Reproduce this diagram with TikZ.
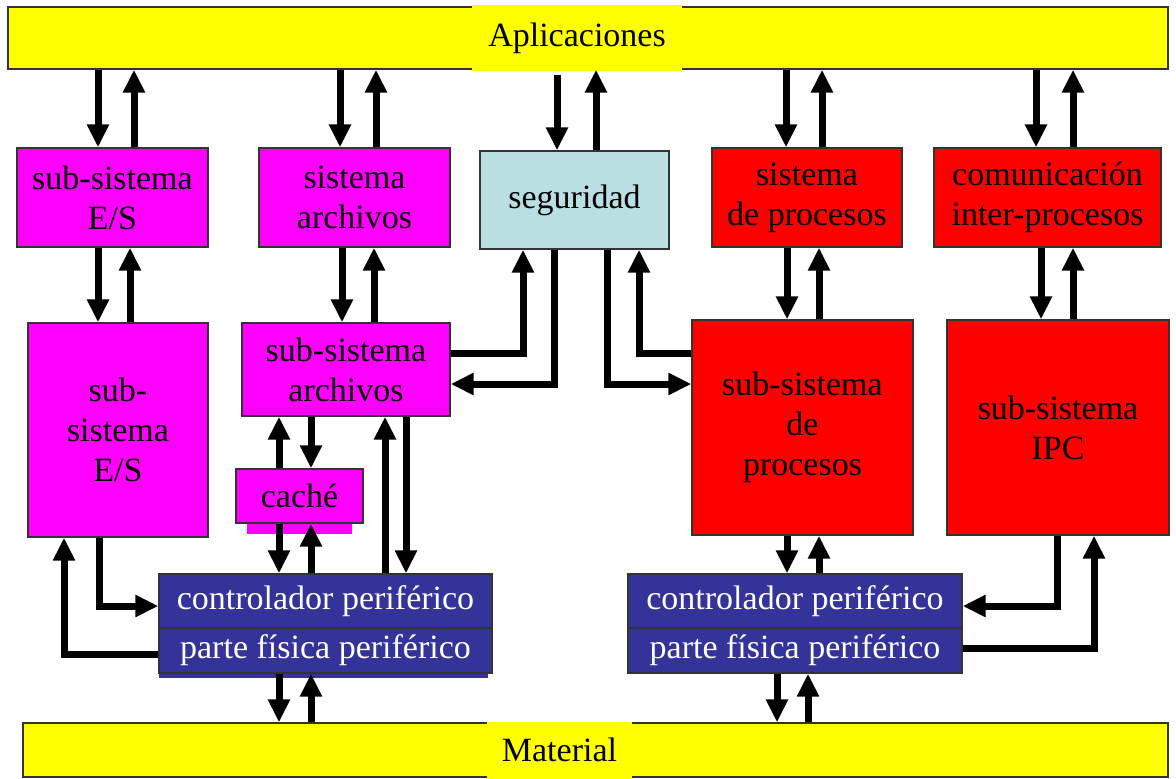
\documentclass[tikz,border=0pt]{standalone}
\usepackage{fontspec}
\setmainfont{Liberation Serif}
\usetikzlibrary{arrows.meta}
\definecolor{appyellow}{HTML}{FFFF00}
\definecolor{fsmagenta}{HTML}{FF00FF}
\definecolor{secblue}{HTML}{B9DFE3}
\definecolor{procred}{HTML}{FF0000}
\definecolor{hwblue}{HTML}{333399}

\begin{document}
\begin{tikzpicture}[x=0.5pt,y=-0.5pt,
  txt/.style={font=\fontsize{17}{20}\selectfont},
  box/.style={txt, draw=black!80, line width=0.7pt, align=center, inner sep=0pt},
  patch/.style={txt, fill=appyellow, inner sep=0pt},
  fsbox/.style={box, fill=fsmagenta},
  procbox/.style={box, fill=procred},
  hwbox/.style={box, fill=hwblue, text=white},
  flow/.style={line width=3.5pt, line join=miter,
    -{Triangle[width=10.5pt,length=11.5pt]}}]
\useasboundingbox (0,0) rectangle (1176,778);

% applications and hardware bars
\node[box, fill=appyellow, minimum width=580pt, minimum height=31pt] (app) at (588,38) {};
\node[patch, minimum width=105pt, minimum height=33pt] (applbl) at (577,38) {Aplicaciones};
\node[box, fill=appyellow, minimum width=572.5pt, minimum height=27pt] (mat) at (595.5,750) {};
\node[patch, minimum width=72.5pt, minimum height=28.5pt] (matlbl) at (559.5,750) {Material};

% upper row of services
\node[fsbox, minimum width=95.5pt, minimum height=49.5pt] (es1) at (112.5,197.5) {sub-sistema\\E/S};
\node[fsbox, minimum width=95.5pt, minimum height=49.5pt] (fs1) at (354.5,197.5) {sistema\\archivos};
\node[box, fill=secblue, minimum width=94.5pt, minimum height=49pt] (seg) at (574.5,200) {seguridad};
\node[procbox, minimum width=95pt, minimum height=49.5pt] (proc1) at (807,197.5) {sistema\\de procesos};
\node[procbox, minimum width=113.5pt, minimum height=49.5pt] (ipc1) at (1047.5,197.5) {comunicación\\inter-procesos};

% lower row of sub-systems
\node[fsbox, minimum width=90pt, minimum height=107pt] (es2) at (118,430) {sub-\\sistema\\E/S};
\node[fsbox, minimum width=104pt, minimum height=46.5pt] (fs2) at (346,369.5) {sub-sistema\\archivos};
\fill[fsmagenta] (247,520) rectangle (352,534);
\node[fsbox, minimum width=63.5pt, minimum height=27pt] (cache) at (299.5,496) {caché};
\node[procbox, minimum width=110.5pt, minimum height=107.5pt] (proc2) at (802.5,427.5) {sub-sistema\\de\\procesos};
\node[procbox, minimum width=111pt, minimum height=107.5pt] (ipc2) at (1058,427.5) {sub-sistema\\IPC};

% device controllers
\fill[hwblue] (159,670) rectangle (488,678);
\node[hwbox, minimum width=166.5pt, minimum height=27pt] (ctl1) at (325.5,601) {controlador periférico};
\node[hwbox, minimum width=166.5pt, minimum height=22.5pt] (phy1) at (325.5,650.5) {parte física periférico};
\node[hwbox, minimum width=167pt, minimum height=27pt] (ctl2) at (795,601) {controlador periférico};
\node[hwbox, minimum width=167pt, minimum height=22.5pt] (phy2) at (795,650.5) {parte física periférico};

% applications <-> upper row
\draw[flow] (app.south -| 98,0) -- (es1.north -| 98,0);
\draw[flow] (es1.north -| 134,0) -- (app.south -| 134,0);
\draw[flow] (app.south -| 340,0) -- (fs1.north -| 340,0);
\draw[flow] (fs1.north -| 376,0) -- (app.south -| 376,0);
\draw[flow, shorten <=2.5pt] (app.south -| 557,0) -- (seg.north -| 557,0);
\draw[flow] (seg.north -| 596,0) -- (app.south -| 596,0);
\draw[flow] (app.south -| 786,0) -- (proc1.north -| 786,0);
\draw[flow] (proc1.north -| 822,0) -- (app.south -| 822,0);
\draw[flow] (app.south -| 1036,0) -- (ipc1.north -| 1036,0);
\draw[flow] (ipc1.north -| 1073,0) -- (app.south -| 1073,0);

% upper row <-> lower row
\draw[flow] (es1.south -| 98,0) -- (es2.north -| 98,0);
\draw[flow] (es2.north -| 130,0) -- (es1.south -| 130,0);
\draw[flow] (fs1.south -| 342,0) -- (fs2.north -| 342,0);
\draw[flow] (fs2.north -| 374,0) -- (fs1.south -| 374,0);
\draw[flow] (proc1.south -| 787,0) -- (proc2.north -| 787,0);
\draw[flow] (proc2.north -| 819,0) -- (proc1.south -| 819,0);
\draw[flow] (ipc1.south -| 1041,0) -- (ipc2.north -| 1041,0);
\draw[flow] (ipc2.north -| 1073,0) -- (ipc1.south -| 1073,0);

% security links
\draw[flow] (fs2.east |- 0,353) -| (seg.south -| 523,0);
\draw[flow] (seg.south -| 554,0) |- (fs2.east |- 0,384);
\draw[flow] (seg.south -| 607,0) |- (proc2.west |- 0,384);
\draw[flow] (proc2.west |- 0,353) -| (seg.south -| 639,0);

% file system, cache and controller
\draw[flow] (cache.north -| 279,0) -- (fs2.south -| 279,0);
\draw[flow] (fs2.south -| 311,0) -- (cache.north -| 311,0);
\draw[flow] (cache.south -| 279,0) -- (ctl1.north -| 279,0);
\draw[flow] (ctl1.north -| 311,0) -- (cache.south -| 311,0);
\draw[flow] (ctl1.north -| 385,0) -- (fs2.south -| 385,0);
\draw[flow] (fs2.south -| 406,0) -- (ctl1.north -| 406,0);

% I/O sub-system and left controller
\draw[flow] (es2.south -| 99,0) |- (ctl1.west |- 0,606);
\draw[flow] (phy1.west |- 0,654) -| (es2.south -| 64,0);

% process sub-systems and right controller
\draw[flow] (proc2.south -| 787,0) -- (ctl2.north -| 787,0);
\draw[flow] (ctl2.north -| 819,0) -- (proc2.south -| 819,0);
\draw[flow] (ipc2.south -| 1057,0) |- (ctl2.east |- 0,606);
\draw[flow] (phy2.east |- 0,648) -| (ipc2.south -| 1094,0);

% controllers <-> hardware
\draw[flow] (phy1.south -| 279,0) -- (mat.north -| 279,0);
\draw[flow] (mat.north -| 311,0) -- (phy1.south -| 311,0);
\draw[flow] (phy2.south -| 777,0) -- (mat.north -| 777,0);
\draw[flow] (mat.north -| 808,0) -- (phy2.south -| 808,0);
\end{tikzpicture}
\end{document}
